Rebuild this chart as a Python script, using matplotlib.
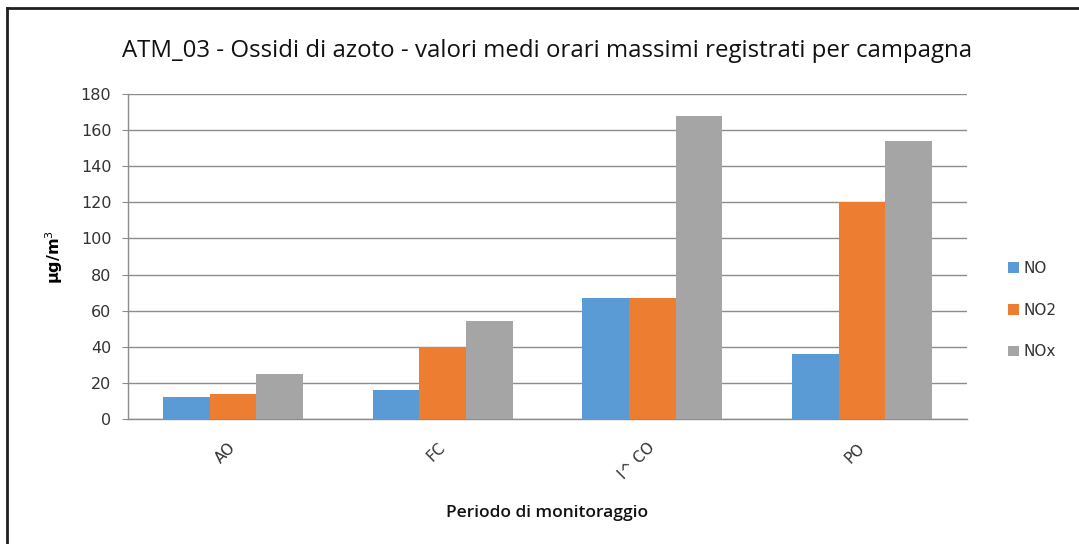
import matplotlib
matplotlib.use("Agg")
import matplotlib.pyplot as plt
import numpy as np
from matplotlib.lines import Line2D

# data
periodi = ["AO", "FC", "I^ CO", "PO"]
no_vals = [12, 16, 67, 36]
no2_vals = [14, 40, 67, 120]
nox_vals = [25, 54, 168, 154]

serie = ["NO", "NO2", "NOx"]
colori = ["#5B9BD5", "#ED7D31", "#A5A5A5"]

plt.rcParams['font.family'] = ['DejaVu Sans']

fig = plt.figure(figsize=(10.79, 5.44), dpi=100)
ax = fig.add_axes([0.1186, 0.2298, 0.7776, 0.5974])

x = np.arange(len(periodi))
w = 1 / 4.5
for k, vals in enumerate([no_vals, no2_vals, nox_vals]):
    ax.bar(x + (k - 1) * w, vals, width=w, color=colori[k], label=serie[k], zorder=3)

ax.set_xlim(-0.5, len(periodi) - 0.5)
ax.set_ylim(0, 180)
ax.set_yticks(range(0, 181, 20))
ax.yaxis.grid(True, color="#8C8C8C", linewidth=1.0, zorder=0)
for s in ["top", "right"]:
    ax.spines[s].set_visible(False)
for s in ["left", "bottom"]:
    ax.spines[s].set_color("#8C8C8C")
    ax.spines[s].set_linewidth(1.0)
ax.tick_params(axis="y", length=4, color="#8C8C8C", labelsize=11.5, labelcolor="#333333", pad=8)
ax.tick_params(axis="x", length=0, labelsize=11, labelcolor="#333333", pad=19)
ax.set_xticks(x)
ax.set_xticklabels(periodi, rotation=45, ha="right", va="center", rotation_mode="anchor")

ax.set_xlabel("Periodo di monitoraggio", fontsize=12.5, fontweight="semibold", labelpad=16,
              family=["Open Sans", "DejaVu Sans"], color="#111111")
ax.set_ylabel("µg/m$^3$", fontsize=11.5, fontweight="bold", labelpad=11)
ax.set_title("ATM_03 - Ossidi di azoto - valori medi orari massimi registrati per campagna",
             fontsize=17.3, pad=27, family=["Open Sans", "DejaVu Sans"], color="#111111")

ax.legend(loc="center left", bbox_to_anchor=(1.033, 0.335), frameon=False,
          handlelength=0.7, handleheight=0.7, handletextpad=0.3,
          labelspacing=1.75, fontsize=11, labelcolor="#333333")

# outer frame (cut at right and bottom)
fig.add_artist(Line2D([7 / 1079, 1.0], [1 - 8 / 544, 1 - 8 / 544], color="#202020", linewidth=2, transform=fig.transFigure))
fig.add_artist(Line2D([7 / 1079, 7 / 1079], [0.0, 1 - 8 / 544], color="#202020", linewidth=2, transform=fig.transFigure))

fig.savefig("out.png", dpi=100)
